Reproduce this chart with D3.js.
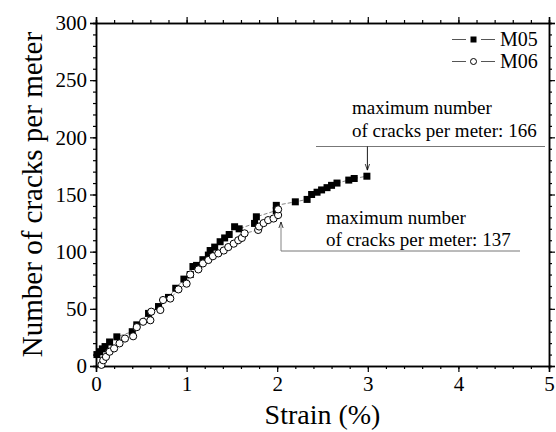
<!DOCTYPE html>
<html><head><meta charset="utf-8">
<script src="https://cdn.jsdelivr.net/npm/d3@7/dist/d3.min.js"></script>
<style>body{margin:0;background:#fff}svg{display:block}text{font-family:"Liberation Serif","Times New Roman",serif;fill:#000}</style>
</head><body><svg id="c" width="556" height="432"></svg>
<script>
// Data (strain %, cracks per meter)
const m05Strain = [0.01,0.04,0.07,0.10,0.15,0.23,0.40,0.45,0.58,0.69,0.80,0.88,0.97,1.04,1.07,1.11,1.18,1.24,1.26,1.31,1.37,1.42,1.47,1.53,1.58,1.75,1.77,1.99,1.99,2.20,2.33,2.38,2.44,2.49,2.55,2.60,2.66,2.79,2.85,2.99];
const m05Cracks = [10,12.5,15,17,21,25.5,30,36,46,52,60,68,76,80,87,88,93,97,101,104,108.7,112,115,121.8,120,124.7,130.5,136,140.5,143.6,145.7,150,152,154,156,158,160,162.6,164,166];
const m06Strain = [0.06,0.08,0.11,0.15,0.20,0.26,0.32,0.41,0.45,0.52,0.60,0.61,0.71,0.74,0.82,0.91,1.00,1.04,1.13,1.18,1.24,1.29,1.35,1.41,1.46,1.52,1.57,1.61,1.64,1.79,1.80,1.85,1.90,1.96,2.01,2.01];
const m06Cracks = [1,5,8,12.5,15.4,19.8,24,26,34,38.7,40,47.5,49,57.7,59,67,72,80,84.5,89.7,92.7,96,98.5,101,104,107,110,112,116,119,122,125,127.6,129,132,137];
const seriesNames = ["M05","M06"];
const xTicks = [0,1,2,3,4,5];
const yTicks = [0,50,100,150,200,250,300];
const annotations = [
  {lines:["maximum number","of cracks per meter: 166"], strain:2.99, cracks:166},
  {lines:["maximum number","of cracks per meter: 137"], strain:2.02, cracks:137}
];

const svg = d3.select("#c");
const L=96, R=549, T=23, B=366;
const x = d3.scaleLinear().domain([0,5]).range([L,R]);
const y = d3.scaleLinear().domain([0,300]).range([B,T]);

// arrow marker
svg.append("defs").append("marker").attr("id","ah").attr("viewBox","0 0 10 10")
  .attr("refX",10).attr("refY",5).attr("markerWidth",7).attr("markerHeight",7).attr("orient","auto")
  .append("path").attr("d","M0,1.5 L10,5 L0,8.5").attr("fill","none").attr("stroke","#000").attr("stroke-width",1.2);

// Axes
function axes(){
  const minX = d3.range(0,5.001,0.2), minY = d3.range(0,300.1,10);
  const gB = svg.append("g").attr("transform",`translate(0,${B})`)
    .call(d3.axisBottom(x).tickValues(xTicks).tickSize(6).tickPadding(4).tickFormat(d3.format("d")));
  const gBm = svg.append("g").attr("transform",`translate(0,${B})`)
    .call(d3.axisBottom(x).tickValues(minX).tickSize(3).tickFormat(""));
  const gT = svg.append("g").attr("transform",`translate(0,${T})`)
    .call(d3.axisTop(x).tickValues(xTicks).tickSize(6).tickFormat(""));
  const gTm = svg.append("g").attr("transform",`translate(0,${T})`)
    .call(d3.axisTop(x).tickValues(minX).tickSize(3).tickFormat(""));
  const gL = svg.append("g").attr("transform",`translate(${L},0)`)
    .call(d3.axisLeft(y).tickValues(yTicks).tickSize(6).tickPadding(3));
  const gLm = svg.append("g").attr("transform",`translate(${L},0)`)
    .call(d3.axisLeft(y).tickValues(minY).tickSize(3).tickFormat(""));
  const gR = svg.append("g").attr("transform",`translate(${R},0)`)
    .call(d3.axisRight(y).tickValues(yTicks).tickSize(6).tickFormat(""));
  const gRm = svg.append("g").attr("transform",`translate(${R},0)`)
    .call(d3.axisRight(y).tickValues(minY).tickSize(3).tickFormat(""));
  [gB,gBm,gT,gTm,gL,gLm,gR,gRm].forEach(g=>{
    g.selectAll("path.domain").attr("stroke","#000").attr("stroke-width",1.5);
    g.selectAll(".tick line").attr("stroke","#000").attr("stroke-width",1.2);
    g.selectAll("text").attr("font-size",21).attr("font-family",'"Liberation Serif",serif').attr("fill","#000");
  });
}
axes();

// Axis titles
svg.append("text").attr("x",(L+R)/2).attr("y",424).attr("text-anchor","middle").attr("font-size",28).text("Strain (%)");
svg.append("text").attr("transform",`translate(42,${(T+B)/2}) rotate(-90)`).attr("text-anchor","middle").attr("font-size",29).text("Number of cracks per meter");

// Series
const s05 = m05Strain.map((s,i)=>[s,m05Cracks[i]]);
const s06 = m06Strain.map((s,i)=>[s,m06Cracks[i]]);
const line = d3.line().x(d=>x(d[0])).y(d=>y(d[1]));
[s05,s06].forEach(d=>{
  svg.append("path").datum(d).attr("d",line).attr("fill","none").attr("stroke","#777").attr("stroke-width",0.9).attr("stroke-dasharray","4,2");
});
const sq=7;
svg.append("g").selectAll("rect").data(s05).join("rect")
  .attr("x",d=>x(d[0])-sq/2).attr("y",d=>y(d[1])-sq/2).attr("width",sq).attr("height",sq).attr("fill","#000");
svg.append("g").selectAll("circle").data(s06).join("circle")
  .attr("cx",d=>x(d[0])).attr("cy",d=>y(d[1])).attr("r",3.6).attr("fill","#fff").attr("stroke","#000").attr("stroke-width",1);

// Legend
const lg = svg.append("g");
[0,1].forEach(i=>{
  const cy = 39.5 + i*22;
  lg.append("line").attr("x1",452).attr("x2",466).attr("y1",cy).attr("y2",cy).attr("stroke","#555").attr("stroke-width",1);
  lg.append("line").attr("x1",481).attr("x2",495).attr("y1",cy).attr("y2",cy).attr("stroke","#555").attr("stroke-width",1);
  if(i===0) lg.append("rect").attr("x",473.5-3).attr("y",cy-3).attr("width",6).attr("height",6).attr("fill","#000");
  else lg.append("circle").attr("cx",473.5).attr("cy",cy).attr("r",3).attr("fill","#fff").attr("stroke","#000");
  lg.append("text").attr("x",500).attr("y",cy+6.5).attr("font-size",20).text(seriesNames[i]);
});

// Annotations
const a1 = annotations[0], a2 = annotations[1];
const g1 = svg.append("g");
a1.lines.forEach((t,i)=>g1.append("text").attr("x",352).attr("y",114+i*23).attr("font-size",19).text(t));
g1.append("line").attr("x1",316).attr("x2",545).attr("y1",146.5).attr("y2",146.5).attr("stroke","#777").attr("stroke-width",1);
g1.append("line").attr("x1",x(a1.strain)+0.5).attr("x2",x(a1.strain)+0.5).attr("y1",146.5).attr("y2",y(a1.cracks)-6)
  .attr("stroke","#000").attr("stroke-width",0.9).attr("marker-end","url(#ah)");
const g2 = svg.append("g");
a2.lines.forEach((t,i)=>g2.append("text").attr("x",326).attr("y",224+i*22).attr("font-size",19).text(t));
g2.append("line").attr("x1",281).attr("x2",520).attr("y1",251).attr("y2",251).attr("stroke","#777").attr("stroke-width",1);
g2.append("line").attr("x1",281).attr("x2",281).attr("y1",251).attr("y2",222)
  .attr("stroke","#777").attr("stroke-width",0.9).attr("marker-end","url(#ah)");
</script></body></html>
